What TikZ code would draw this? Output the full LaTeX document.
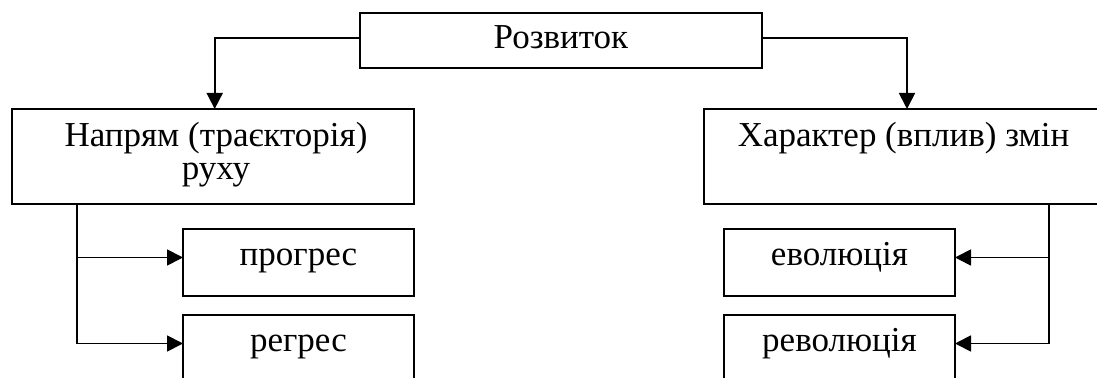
\documentclass[tikz,border=0pt]{standalone}
\usepackage{fontspec}
\setmainfont{Liberation Serif}
\usetikzlibrary{arrows.meta,calc}
\begin{document}
\begin{tikzpicture}[x=0.5pt,y=-0.5pt,
  box/.style={draw,line width=0.9pt,rectangle,inner sep=0pt,outer sep=0pt,
    font=\fontsize{17.5}{16.5}\selectfont},
  small/.style={box,minimum width=115.5pt,minimum height=33.5pt,
    text height=6pt,text depth=3.25pt},
  big/.style={box,minimum height=47.5pt},
  lbl/.style={font=\fontsize{17.5}{16.5}\selectfont,anchor=base,inner sep=0pt},
  arr/.style={line width=0.9pt,-{Triangle[length=8pt,width=8pt]}}]
\useasboundingbox (0,0) rectangle (1097,378);
\clip (0,0) rectangle (1097,378);

\node[box,minimum width=201pt,minimum height=27.5pt,text height=9pt,text depth=1.2pt]
  (top) at (561,40.5) {Розвиток};

\node[big,minimum width=201pt] (left) at (213,156.5) {};
\node[lbl] (lefta) at (216,147) {Напрям (траєкторія)};
\node[lbl] (leftb) at (216,180) {руху};

\node[big,minimum width=199.5pt] (right) at (903.5,156.5) {};
\node[lbl] (righta) at (903.5,147) {Характер (вплив) змін};

\node[small] (prog) at (298.5,262.5) {прогрес};
\node[small] (reg)  at (298.5,348.5) {регрес};
\node[small] (evo)  at (839.5,262.5) {еволюція};
\node[small] (rev)  at (839.5,348.5) {революція};

\draw[arr] ([yshift=1.25pt]top.west) -| ([xshift=0.85pt]left.north);
\draw[arr] ([yshift=1.25pt]top.east) -| ([xshift=1.75pt]right.north);

\coordinate (lv) at (76.7,204);
\coordinate (rv) at (1048.7,204);
\draw[arr] (lv) |- ([yshift=2.5pt]prog.west);
\draw[arr] (lv) |- ([yshift=2.5pt]reg.west);
\draw[arr] (rv) |- ([yshift=2.5pt]evo.east);
\draw[arr] (rv) |- ([yshift=2.5pt]rev.east);
\end{tikzpicture}
\end{document}
